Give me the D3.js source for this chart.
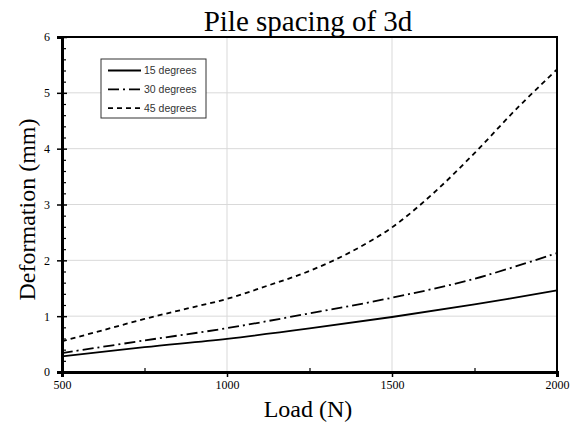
<!DOCTYPE html>
<html>
<head>
<meta charset="utf-8">
<script src="https://cdn.jsdelivr.net/npm/d3@7.9.0/dist/d3.min.js"></script>
<style>
  body { margin: 0; background: #fff; }
  svg { display: block; }
</style>
</head>
<body>
<svg id="chart" width="578" height="423"></svg>
<script>
// data
const loads = [500, 750, 1000, 1250, 1500, 1750, 2000];
const deg15 = [0.28, 0.445, 0.595, 0.78, 0.985, 1.21, 1.46];
const deg30 = [0.34, 0.565, 0.785, 1.05, 1.33, 1.67, 2.13];
// 45 degrees bends sharply, read at finer steps
const loads45 = [500, 625, 750, 875, 1000, 1125, 1250, 1375, 1500, 1625, 1750, 1875, 2000];
const deg45 = [0.55, 0.75, 0.95, 1.13, 1.31, 1.55, 1.81, 2.15, 2.59, 3.2, 3.92, 4.7, 5.42];
const seriesNames = ['15 degrees', '30 degrees', '45 degrees'];
const xTicks = [500, 1000, 1500, 2000];
const yTicks = [0, 1, 2, 3, 4, 5, 6];

const W = 578, H = 423;
const margin = { top: 37, right: 21, bottom: 51, left: 62 };
const svg = d3.select('#chart');

let x = d3.scaleLinear().domain([500, 2000]).range([margin.left, W - margin.right]);
let y = d3.scaleLinear().domain([0, 6]).range([H - margin.bottom, margin.top]);

const serif = '"Liberation Serif", "Times New Roman", serif';

// grid
let grid = svg.append('g');
grid.selectAll('line.gx')
  .data(xTicks.slice(1, -1))
  .enter().append('line')
  .attr('x1', d => x(d)).attr('x2', d => x(d))
  .attr('y1', y(0)).attr('y2', y(6))
  .attr('stroke', '#d9d9d9').attr('stroke-width', 1);
grid.selectAll('line.gy')
  .data(yTicks.slice(1, -1))
  .enter().append('line')
  .attr('x1', x(500)).attr('x2', x(2000))
  .attr('y1', d => y(d)).attr('y2', d => y(d))
  .attr('stroke', '#d9d9d9').attr('stroke-width', 1);

// lines
const dashes = [null, '11,4,2,4', '5,4'];
const xs = [loads, loads, loads45];
let series = [deg15, deg30, deg45].map((vals, i) => ({
  name: seriesNames[i],
  dash: dashes[i],
  points: xs[i].map((l, j) => [l, vals[j]])
}));

let lineGen = d3.line()
  .x(d => x(d[0]))
  .y(d => y(d[1]))
  .curve(d3.curveCatmullRom.alpha(0.5));

svg.append('g').selectAll('path')
  .data(series)
  .enter().append('path')
  .attr('d', d => lineGen(d.points))
  .attr('fill', 'none')
  .attr('stroke', '#000')
  .attr('stroke-width', 1.8)
  .attr('stroke-dasharray', d => d.dash);

// frame (top/right thinner)
svg.append('rect')
  .attr('x', x(500)).attr('y', y(6))
  .attr('width', x(2000) - x(500)).attr('height', y(0) - y(6))
  .attr('fill', 'none').attr('stroke', '#000').attr('stroke-width', 2);

// axes
let xAxis = d3.axisBottom(x).tickValues(xTicks).tickSize(5).tickPadding(3).tickFormat(d3.format('d'));
let gx = svg.append('g').attr('transform', `translate(0,${y(0)})`).call(xAxis);
gx.select('.domain').attr('stroke-width', 3);
gx.selectAll('.tick line').attr('stroke-width', 1.5);
gx.selectAll('text').attr('font-family', serif).attr('font-size', 12).attr('fill', '#000');

let xMinor = d3.axisTop(x).tickValues([750, 1250, 1750]).tickSize(4).tickFormat('');
let gxm = svg.append('g').attr('transform', `translate(0,${y(0)})`).call(xMinor);
gxm.select('.domain').remove();
gxm.selectAll('.tick line').attr('stroke-width', 1.2);

let yAxis = d3.axisLeft(y).tickValues(yTicks).tickSize(5).tickPadding(7).tickFormat(d3.format('d'));
let gy = svg.append('g').attr('transform', `translate(${x(500)},0)`).call(yAxis);
gy.select('.domain').attr('stroke-width', 3);
gy.selectAll('.tick line').attr('x2', 5).attr('x1', -5).attr('stroke-width', 1.5);
gy.selectAll('text').attr('font-family', serif).attr('font-size', 12).attr('fill', '#000');

let yMinorVals = d3.range(0, 6.001, 0.2).filter(v => Math.abs(v - Math.round(v)) > 0.01);
let yMinor = d3.axisRight(y).tickValues(yMinorVals).tickSize(4).tickFormat('');
let gym = svg.append('g').attr('transform', `translate(${x(500)},0)`).call(yMinor);
gym.select('.domain').remove();
gym.selectAll('.tick line').attr('stroke-width', 1.2);

// titles
svg.append('text')
  .attr('x', 308).attr('y', 31)
  .attr('text-anchor', 'middle')
  .attr('font-family', serif).attr('font-size', 29)
  .text('Pile spacing of 3d');

svg.append('text')
  .attr('x', 308).attr('y', 417)
  .attr('text-anchor', 'middle')
  .attr('font-family', serif).attr('font-size', 24)
  .text('Load (N)');

svg.append('text')
  .attr('transform', `translate(35,${(y(0) + y(6)) / 2 + 5}) rotate(-90)`)
  .attr('text-anchor', 'middle')
  .attr('font-family', serif).attr('font-size', 24)
  .text('Deformation (mm)');

// legend
let legend = svg.append('g').attr('transform', 'translate(101,59)');
legend.append('rect')
  .attr('width', 105).attr('height', 59)
  .attr('fill', '#fff').attr('stroke', '#333').attr('stroke-width', 1);
series.forEach((s, i) => {
  let ly = 11.5 + i * 18.8;
  legend.append('line')
    .attr('x1', 7).attr('x2', 40)
    .attr('y1', ly).attr('y2', ly)
    .attr('stroke', '#000').attr('stroke-width', 1.8)
    .attr('stroke-dasharray', s.dash);
  legend.append('text')
    .attr('x', 43).attr('y', ly + 3.8)
    .attr('font-family', '"Liberation Sans", Arial, sans-serif')
    .attr('font-size', 10.5)
    .attr('fill', '#333')
    .text(s.name);
});
</script>
</body>
</html>
